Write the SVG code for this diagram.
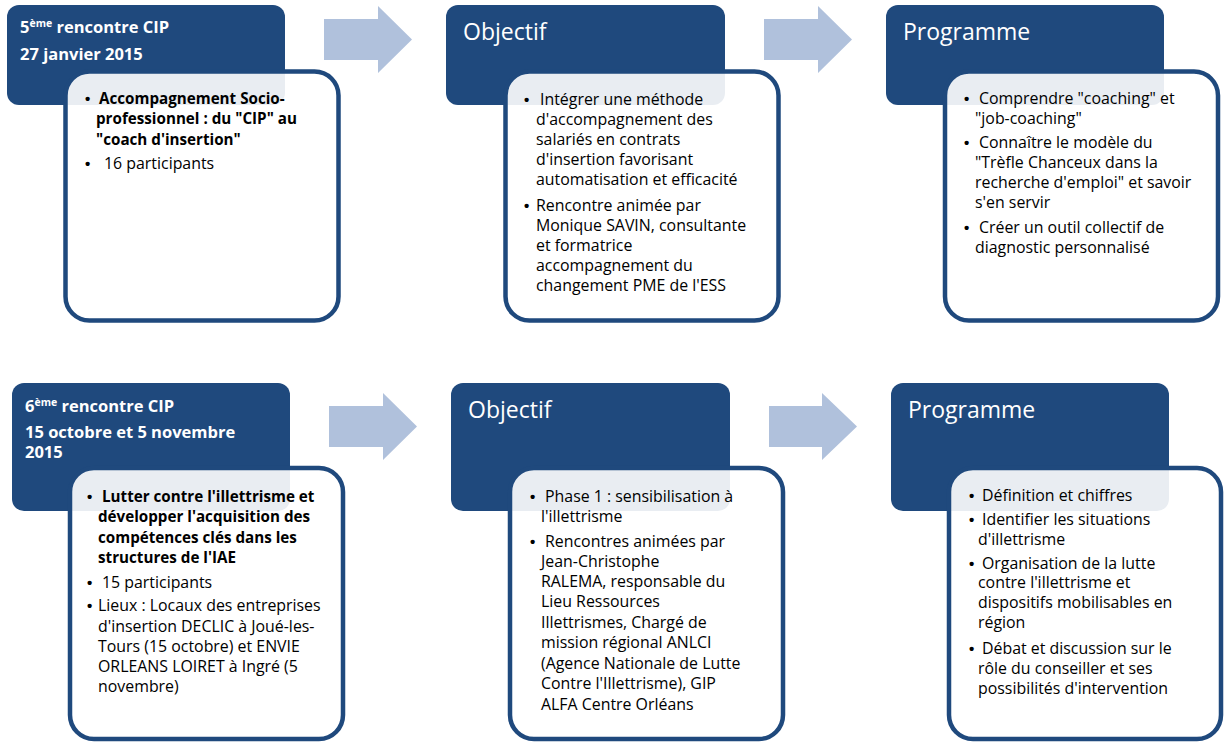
<svg xmlns="http://www.w3.org/2000/svg" width="1224" height="742" viewBox="0 0 1224 742">
<style>
.hd{fill:#1f497d}
.bx{fill:#ffffff;fill-opacity:0.9;stroke:#1f497d;stroke-width:4.5}
.ar{fill:#b0c1dc}
.t{font-family:"Open Sans","Liberation Sans",Arial,sans-serif;font-size:15.9px;fill:#000}
.b{font-weight:bold;font-size:15.2px}
.bl{font-family:"Liberation Sans",Arial,sans-serif;font-size:15px;font-weight:bold}
.tt{font-family:"Open Sans","Liberation Sans",sans-serif;font-size:23px;fill:#fff}
.ht{font-family:"Open Sans","Liberation Sans",sans-serif;font-size:16.5px;font-weight:bold;fill:#fff}
.sup{font-size:10.5px}
</style>
<rect width="1224" height="742" fill="#fff"/>
<g id="connectors">
<polygon class="ar" points="324,19 378,19 378,6 412,39.5 378,73 378,60 324,60"/>
<polygon class="ar" points="764,19 818,19 818,6 852,39.5 818,73 818,60 764,60"/>
<polygon class="ar" points="329,406 383,406 383,393 417,426.5 383,460 383,447 329,447"/>
<polygon class="ar" points="769,406 822,406 822,393 857,426.5 822,460 822,447 769,447"/>
</g>
<g id="p1">
<rect class="hd" x="7" y="5" width="278" height="100" rx="12"/>
<text class="ht" x="20" y="33">5<tspan class="sup" dy="-6">ème</tspan><tspan dy="6"> rencontre CIP</tspan></text>
<text class="ht" x="20" y="60">27 janvier 2015</text>
<rect class="bx" x="65.5" y="71.5" width="273" height="249" rx="24"/>
<g class="t">
<text class="bl" x="85" y="104">•</text><text class="b" x="99" y="104">Accompagnement Socio-</text><text class="b" x="96" y="124">professionnel : du "CIP" au</text><text class="b" x="96" y="145">"coach d'insertion"</text>
<text class="bl" x="85" y="169">•</text><text x="104" y="169">16 participants</text>
</g>
</g>
<g id="p2">
<rect class="hd" x="446" y="5" width="279" height="100" rx="12"/>
<text class="tt" x="463" y="40">Objectif</text>
<rect class="bx" x="505.5" y="71.5" width="273" height="249" rx="24"/>
<g class="t">
<text class="bl" x="524" y="105">•</text><text x="540" y="105">Intégrer une méthode</text>
<text x="536" y="125">d'accompagnement des</text>
<text x="536" y="145">salariés en contrats</text>
<text x="536" y="165">d'insertion favorisant</text>
<text x="536" y="185">automatisation et efficacité</text>
<text class="bl" x="524" y="211">•</text><text x="536" y="211">Rencontre animée par</text>
<text x="536" y="231">Monique SAVIN, consultante</text>
<text x="536" y="251">et formatrice</text>
<text x="536" y="271">accompagnement du</text>
<text x="536" y="291">changement PME de l'ESS</text>
</g>
</g>
<g id="p3">
<rect class="hd" x="886" y="5" width="278" height="100" rx="12"/>
<text class="tt" x="903" y="40">Programme</text>
<rect class="bx" x="945" y="71.5" width="273" height="249" rx="24"/>
<g class="t">
<text class="bl" x="964" y="104">•</text><text x="979" y="104">Comprendre "coaching" et</text>
<text x="975" y="124">"job-coaching"</text>
<text class="bl" x="964" y="148">•</text><text x="979" y="148">Connaître le modèle du</text>
<text x="975" y="168">"Trèfle Chanceux dans la</text>
<text x="975" y="188">recherche d'emploi" et savoir</text>
<text x="975" y="208">s'en servir</text>
<text class="bl" x="964" y="233">•</text><text x="979" y="233">Créer un outil collectif de</text>
<text x="975" y="253">diagnostic personnalisé</text>
</g>
</g>
<g id="p4">
<rect class="hd" x="12" y="383" width="278" height="128" rx="12"/>
<text class="ht" x="25" y="412">6<tspan class="sup" dy="-6">ème</tspan><tspan dy="6"> rencontre CIP</tspan></text>
<text class="ht" x="25" y="438">15 octobre et 5 novembre</text>
<text class="ht" x="25" y="458">2015</text>
<rect class="bx" x="70" y="468" width="273" height="271" rx="24"/>
<g class="t">
<text class="bl" x="87" y="502">•</text><text class="b" x="102" y="502">Lutter contre l'illettrisme et</text>
<text class="b" x="98" y="522">développer l'acquisition des</text>
<text class="b" x="98" y="543">compétences clés dans les</text>
<text class="b" x="98" y="563">structures de l'IAE</text>
<text class="bl" x="87" y="588">•</text><text x="102" y="588">15 participants</text>
<text class="bl" x="87" y="611">•</text><text x="98" y="611">Lieux : Locaux des entreprises</text>
<text x="98" y="632">d'insertion DECLIC à Joué-les-</text>
<text x="98" y="652">Tours (15 octobre) et ENVIE</text>
<text x="98" y="672">ORLEANS LOIRET à Ingré (5</text>
<text x="98" y="692">novembre)</text>
</g>
</g>
<g id="p5">
<rect class="hd" x="451" y="383" width="279" height="128" rx="12"/>
<text class="tt" x="468" y="418">Objectif</text>
<rect class="bx" x="510" y="468" width="273" height="271" rx="24"/>
<g class="t">
<text class="bl" x="530" y="502">•</text><text x="545" y="502">Phase 1 : sensibilisation à</text>
<text x="541" y="522">l'illettrisme</text>
<text class="bl" x="530" y="547">•</text><text x="545" y="547">Rencontres animées par</text>
<text x="541" y="567">Jean-Christophe</text>
<text x="541" y="587">RALEMA, responsable du</text>
<text x="541" y="607">Lieu Ressources</text>
<text x="541" y="628">Illettrismes, Chargé de</text>
<text x="541" y="648">mission régional ANLCI</text>
<text x="541" y="669">(Agence Nationale de Lutte</text>
<text x="541" y="689">Contre l'Illettrisme), GIP</text>
<text x="541" y="710">ALFA Centre Orléans</text>
</g>
</g>
<g id="p6">
<rect class="hd" x="891" y="383" width="278" height="128" rx="12"/>
<text class="tt" x="908" y="418">Programme</text>
<rect class="bx" x="949" y="468" width="272" height="271" rx="24"/>
<g class="t">
<text class="bl" x="969" y="501">•</text><text x="982" y="501">Définition et chiffres</text>
<text class="bl" x="969" y="525">•</text><text x="982" y="525">Identifier les situations</text>
<text x="978" y="545">d'illettrisme</text>
<text class="bl" x="969" y="569">•</text><text x="982" y="569">Organisation de la lutte</text>
<text x="978" y="588">contre l'illettrisme et</text>
<text x="978" y="608">dispositifs mobilisables en</text>
<text x="978" y="628">région</text>
<text class="bl" x="969" y="654">•</text><text x="982" y="654">Débat et discussion sur le</text>
<text x="978" y="674">rôle du conseiller et ses</text>
<text x="978" y="694">possibilités d'intervention</text>
</g>
</g>
</svg>
